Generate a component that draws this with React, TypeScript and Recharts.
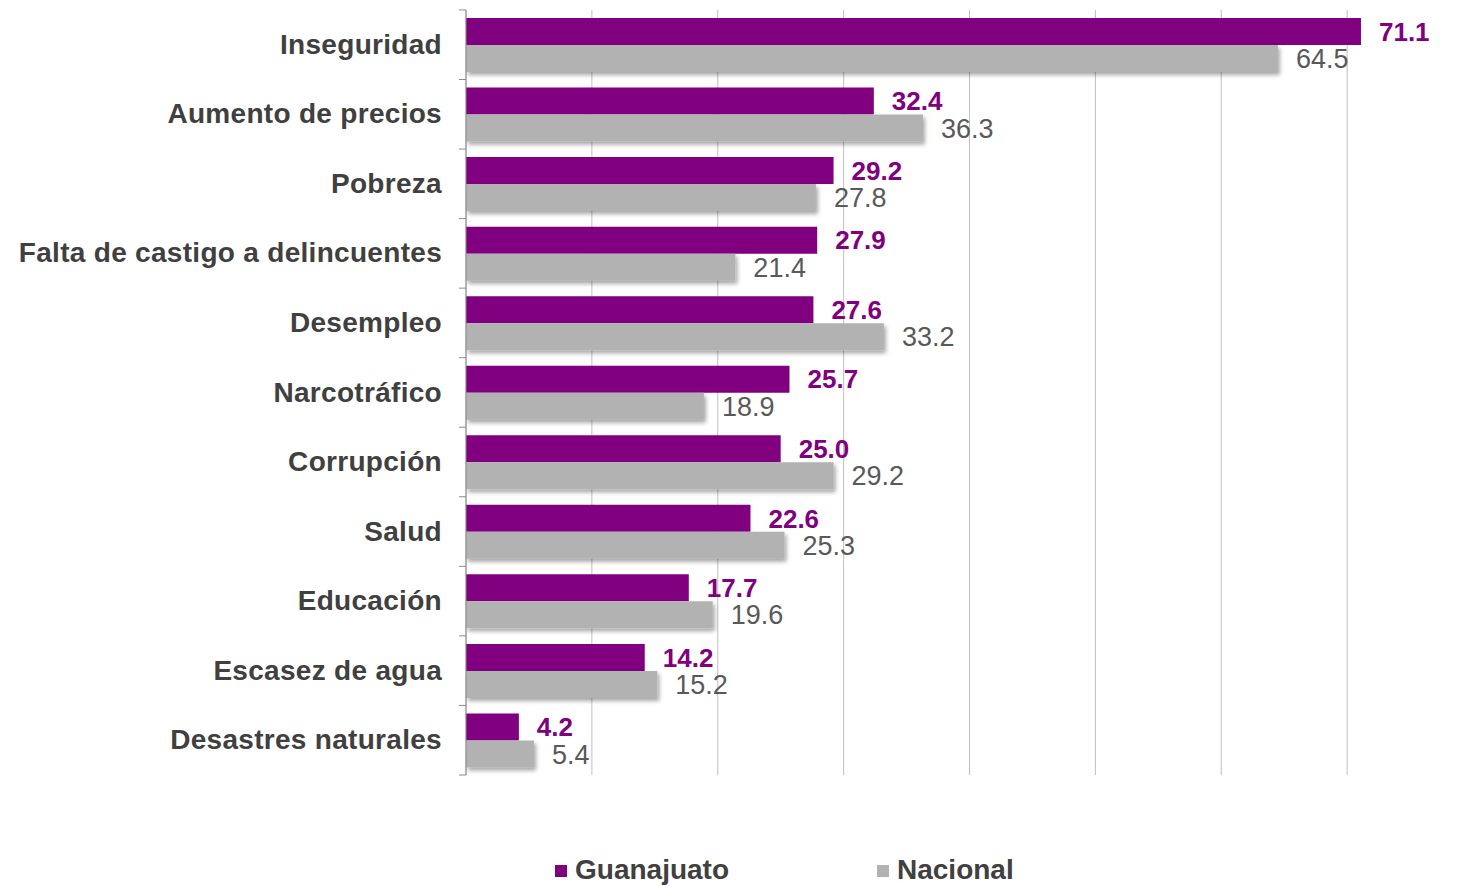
import React from "react";
import { BarChart, Bar, XAxis, YAxis, CartesianGrid, LabelList, Legend, Rectangle } from "recharts";

const categories = [
  "Inseguridad",
  "Aumento de precios",
  "Pobreza",
  "Falta de castigo a delincuentes",
  "Desempleo",
  "Narcotráfico",
  "Corrupción",
  "Salud",
  "Educación",
  "Escasez de agua",
  "Desastres naturales",
];
const guanajuato = [71.1, 32.4, 29.2, 27.9, 27.6, 25.7, 25.0, 22.6, 17.7, 14.2, 4.2];
const nacional = [64.5, 36.3, 27.8, 21.4, 33.2, 18.9, 29.2, 25.3, 19.6, 15.2, 5.4];
const xTicks = [0, 10, 20, 30, 40, 50, 60, 70, 80];

const data = categories.map((name, i) => ({ name, guanajuato: guanajuato[i], nacional: nacional[i] }));

const FONT = "'Liberation Sans', Arial, sans-serif";
const PURPLE = "#800080";
const GRAY = "#b2b2b2";
const CHART_W = 1480;
const CHART_H = 886;
const AXIS_W = 466;
const TOP = 10;
const LEGEND_H = 110;
const BAND = (CHART_H - TOP - LEGEND_H) / categories.length;

function CategoryTick(props: any) {
  const { y, payload, index } = props;
  const x0 = AXIS_W;
  return (
    <g>
      <line x1={x0 - 7} x2={x0} y1={y - BAND / 2} y2={y - BAND / 2} stroke="#8c8c8c" />
      {index === categories.length - 1 && (
        <line x1={x0 - 7} x2={x0} y1={y + BAND / 2} y2={y + BAND / 2} stroke="#8c8c8c" />
      )}
      <text
        x={x0 - 24}
        y={y}
        dy={9}
        textAnchor="end"
        fill="#404040"
        fontSize={28}
        fontWeight="bold"
        letterSpacing={0.3}
        fontFamily={FONT}
      >
        {payload.value}
      </text>
    </g>
  );
}

function LegendBox() {
  const item = (left: number, color: string, label: string) => (
    <div style={{ position: "absolute", left, top: 79, height: 30, display: "flex", alignItems: "center" }}>
      <span style={{ width: 12, height: 12, background: color, marginRight: 8, marginTop: 2 }} />
      <span style={{ fontFamily: FONT, fontSize: 28, fontWeight: "bold", color: "#404040" }}>{label}</span>
    </div>
  );
  return (
    <div style={{ position: "relative", height: LEGEND_H, width: CHART_W }}>
      {item(555, PURPLE, "Guanajuato")}
      {item(877, GRAY, "Nacional")}
    </div>
  );
}

const fmt = (v: any) => Number(v).toFixed(1);

export default function App() {
  return (
    <div style={{ position: "fixed", left: 0, top: 0, width: 1458, height: 886, overflow: "hidden", background: "#fff" }}>
      <BarChart
        width={CHART_W}
        height={CHART_H}
        data={data}
        layout="vertical"
        margin={{ top: TOP, right: 7, left: 0, bottom: 0 }}
        barGap={0}
        barSize={27}
      >
        <defs>
          <filter id="barShadow" x="-5%" y="-20%" width="115%" height="160%">
            <feGaussianBlur in="SourceAlpha" stdDeviation="2" />
            <feOffset dx="2" dy="3" result="off" />
            <feComponentTransfer>
              <feFuncA type="linear" slope="0.35" />
            </feComponentTransfer>
            <feMerge>
              <feMergeNode />
              <feMergeNode in="SourceGraphic" />
            </feMerge>
          </filter>
        </defs>
        <CartesianGrid horizontal={false} stroke="#bfbfbf" />
        <XAxis
          type="number"
          domain={[0, 80]}
          ticks={xTicks}
          height={1}
          interval={0}
          tick={() => <g />}
          axisLine={false}
          tickLine={false}
        />
        <YAxis
          type="category"
          dataKey="name"
          width={AXIS_W}
          axisLine={{ stroke: "#8c8c8c" }}
          tickLine={false}
          tick={<CategoryTick />}
          interval={0}
        />
        <Legend verticalAlign="bottom" content={<LegendBox />} />
        <Bar dataKey="guanajuato" name="Guanajuato" fill={PURPLE} isAnimationActive={false}>
          <LabelList dataKey="guanajuato" position="right" offset={18} formatter={fmt} fill={PURPLE} fontSize={26} fontWeight="bold" fontFamily={FONT} />
        </Bar>
        <Bar
          dataKey="nacional"
          name="Nacional"
          fill={GRAY}
          isAnimationActive={false}
          shape={(p: any) => <Rectangle {...p} filter="url(#barShadow)" />}
        >
          <LabelList dataKey="nacional" position="right" offset={18} formatter={fmt} fill="#595959" fontSize={27} fontFamily={FONT} />
        </Bar>
      </BarChart>
    </div>
  );
}
